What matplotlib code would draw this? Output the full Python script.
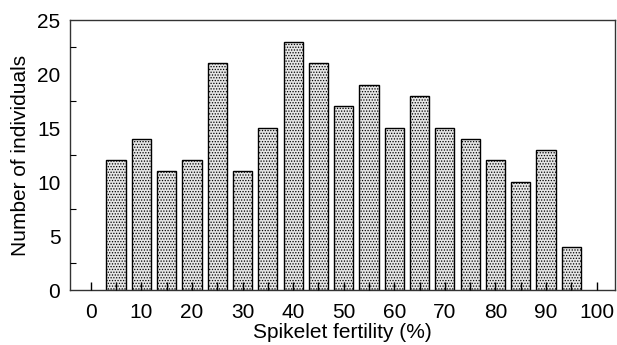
import matplotlib.pyplot as plt
import numpy as np
import matplotlib

matplotlib.rcParams['font.family'] = ['Liberation Sans', 'DejaVu Sans']
matplotlib.rcParams['hatch.linewidth'] = 0.6
matplotlib.rcParams['hatch.color'] = '#6e6e6e'

fertility = [5, 10, 15, 20, 25, 30, 35, 40, 45, 50, 55, 60, 65, 70, 75, 80, 85, 90, 95]
individuals = [12, 14, 11, 12, 21, 11, 15, 23, 21, 17, 19, 15, 18, 15, 14, 12, 10, 13, 4]
xticks = [0, 10, 20, 30, 40, 50, 60, 70, 80, 90, 100]
yticks = [0, 5, 10, 15, 20, 25]

fig = plt.figure(figsize=(6.17, 3.45), dpi=100)
ax = fig.add_axes([0.1135, 0.159, 0.883, 0.783])

ax.bar(fertility, individuals, width=3.8, color='#e6e6e6', edgecolor='black',
       linewidth=1.0, hatch='......', zorder=1)

ax.set_xlim(-4.1, 103.6)
ax.set_ylim(0, 25)
ax.set_xticks(xticks)
ax.set_xticks(np.arange(5, 100, 10), minor=True)
ax.set_yticks(yticks)
ax.set_yticks(np.arange(2.5, 25, 5), minor=True)

ax.tick_params(axis='x', which='both', direction='in', length=6, width=1,
               labelsize=15, pad=9)
ax.tick_params(axis='y', which='major', direction='in', length=0, labelsize=15, pad=7)
ax.tick_params(axis='y', which='minor', direction='in', length=4, width=0.8)
ax.set_axisbelow(False)

for s in ax.spines.values():
    s.set_linewidth(1.0)
    s.set_color('#333333')

ax.set_xlabel('Spikelet fertility (%)', fontsize=15, labelpad=1)
ax.set_ylabel('Number of individuals', fontsize=15, labelpad=5)

fig.savefig('out.png', dpi=100)
